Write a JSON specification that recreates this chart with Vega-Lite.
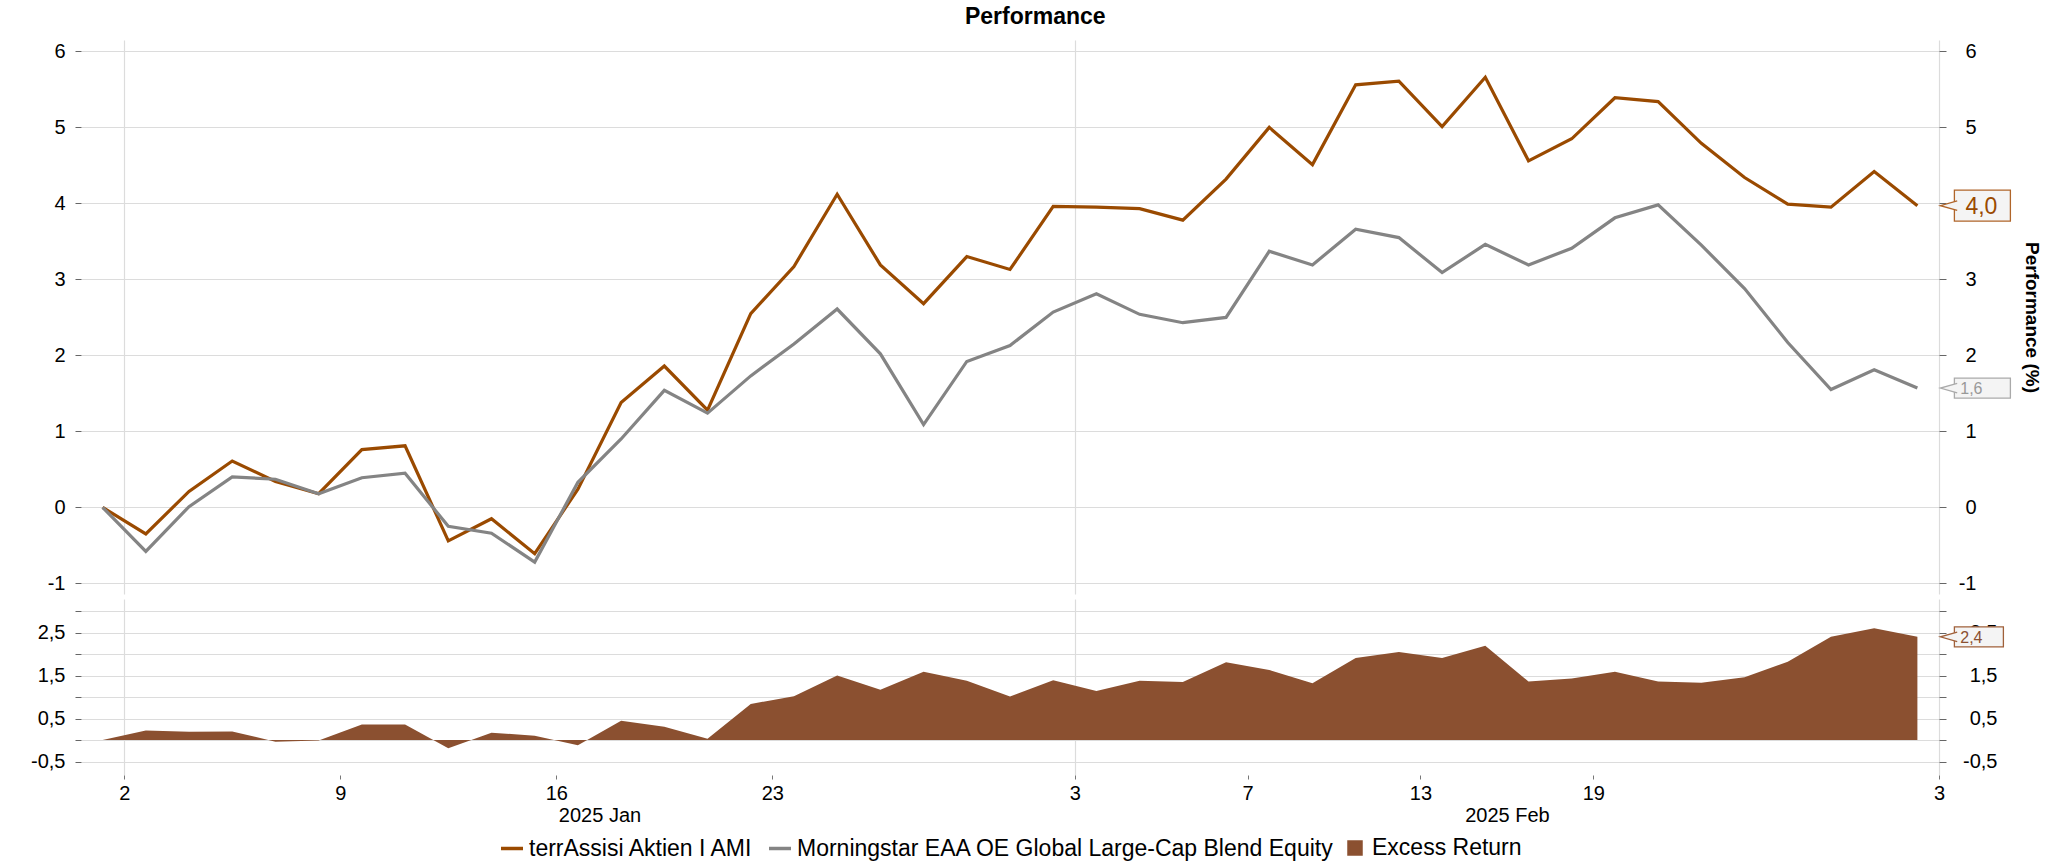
{
  "$schema": "https://vega.github.io/schema/vega-lite/v6.json",
  "padding": {"left": 30, "top": 6, "right": 5, "bottom": 0},
  "title": {"text": "Performance", "fontSize": 23, "fontWeight": "bold", "font": "Liberation Sans", "color": "#000000", "anchor": "middle", "offset": 11},
  "spacing": 5,
  "config": {
    "font": "Liberation Sans",
    "view": {"stroke": null},
    "axis": {"labelFont": "Liberation Sans", "labelFontSize": 20, "labelColor": "#000000", "domain": false, "tickColor": "#666666"},
    "legend": {"layout": {"bottom": {"anchor": "middle"}}}
  },
  "datasets": {
    "perf": [
      {"i": 0, "date": "2024-12-31", "series": "terrAssisi Aktien I AMI", "value": 0.00},
      {"i": 1, "date": "2025-01-02", "series": "terrAssisi Aktien I AMI", "value": -0.35},
      {"i": 2, "date": "2025-01-03", "series": "terrAssisi Aktien I AMI", "value": 0.21},
      {"i": 3, "date": "2025-01-06", "series": "terrAssisi Aktien I AMI", "value": 0.61},
      {"i": 4, "date": "2025-01-07", "series": "terrAssisi Aktien I AMI", "value": 0.34},
      {"i": 5, "date": "2025-01-08", "series": "terrAssisi Aktien I AMI", "value": 0.18},
      {"i": 6, "date": "2025-01-09", "series": "terrAssisi Aktien I AMI", "value": 0.76},
      {"i": 7, "date": "2025-01-10", "series": "terrAssisi Aktien I AMI", "value": 0.81},
      {"i": 8, "date": "2025-01-13", "series": "terrAssisi Aktien I AMI", "value": -0.44},
      {"i": 9, "date": "2025-01-14", "series": "terrAssisi Aktien I AMI", "value": -0.15},
      {"i": 10, "date": "2025-01-15", "series": "terrAssisi Aktien I AMI", "value": -0.61},
      {"i": 11, "date": "2025-01-16", "series": "terrAssisi Aktien I AMI", "value": 0.24},
      {"i": 12, "date": "2025-01-17", "series": "terrAssisi Aktien I AMI", "value": 1.38},
      {"i": 13, "date": "2025-01-20", "series": "terrAssisi Aktien I AMI", "value": 1.86},
      {"i": 14, "date": "2025-01-21", "series": "terrAssisi Aktien I AMI", "value": 1.28},
      {"i": 15, "date": "2025-01-22", "series": "terrAssisi Aktien I AMI", "value": 2.55},
      {"i": 16, "date": "2025-01-23", "series": "terrAssisi Aktien I AMI", "value": 3.17},
      {"i": 17, "date": "2025-01-24", "series": "terrAssisi Aktien I AMI", "value": 4.12},
      {"i": 18, "date": "2025-01-27", "series": "terrAssisi Aktien I AMI", "value": 3.19},
      {"i": 19, "date": "2025-01-28", "series": "terrAssisi Aktien I AMI", "value": 2.68},
      {"i": 20, "date": "2025-01-29", "series": "terrAssisi Aktien I AMI", "value": 3.30},
      {"i": 21, "date": "2025-01-30", "series": "terrAssisi Aktien I AMI", "value": 3.13},
      {"i": 22, "date": "2025-01-31", "series": "terrAssisi Aktien I AMI", "value": 3.96},
      {"i": 23, "date": "2025-02-03", "series": "terrAssisi Aktien I AMI", "value": 3.95},
      {"i": 24, "date": "2025-02-04", "series": "terrAssisi Aktien I AMI", "value": 3.93},
      {"i": 25, "date": "2025-02-05", "series": "terrAssisi Aktien I AMI", "value": 3.78},
      {"i": 26, "date": "2025-02-06", "series": "terrAssisi Aktien I AMI", "value": 4.32},
      {"i": 27, "date": "2025-02-07", "series": "terrAssisi Aktien I AMI", "value": 5.00},
      {"i": 28, "date": "2025-02-10", "series": "terrAssisi Aktien I AMI", "value": 4.51},
      {"i": 29, "date": "2025-02-11", "series": "terrAssisi Aktien I AMI", "value": 5.56},
      {"i": 30, "date": "2025-02-12", "series": "terrAssisi Aktien I AMI", "value": 5.61},
      {"i": 31, "date": "2025-02-13", "series": "terrAssisi Aktien I AMI", "value": 5.01},
      {"i": 32, "date": "2025-02-14", "series": "terrAssisi Aktien I AMI", "value": 5.66},
      {"i": 33, "date": "2025-02-17", "series": "terrAssisi Aktien I AMI", "value": 4.56},
      {"i": 34, "date": "2025-02-18", "series": "terrAssisi Aktien I AMI", "value": 4.85},
      {"i": 35, "date": "2025-02-19", "series": "terrAssisi Aktien I AMI", "value": 5.39},
      {"i": 36, "date": "2025-02-20", "series": "terrAssisi Aktien I AMI", "value": 5.34},
      {"i": 37, "date": "2025-02-21", "series": "terrAssisi Aktien I AMI", "value": 4.79},
      {"i": 38, "date": "2025-02-24", "series": "terrAssisi Aktien I AMI", "value": 4.34},
      {"i": 39, "date": "2025-02-25", "series": "terrAssisi Aktien I AMI", "value": 3.99},
      {"i": 40, "date": "2025-02-26", "series": "terrAssisi Aktien I AMI", "value": 3.95},
      {"i": 41, "date": "2025-02-27", "series": "terrAssisi Aktien I AMI", "value": 4.42},
      {"i": 42, "date": "2025-02-28", "series": "terrAssisi Aktien I AMI", "value": 3.97},
      {"i": 0, "date": "2024-12-31", "series": "Morningstar EAA OE Global Large-Cap Blend Equity", "value": 0.00},
      {"i": 1, "date": "2025-01-02", "series": "Morningstar EAA OE Global Large-Cap Blend Equity", "value": -0.58},
      {"i": 2, "date": "2025-01-03", "series": "Morningstar EAA OE Global Large-Cap Blend Equity", "value": 0.01},
      {"i": 3, "date": "2025-01-06", "series": "Morningstar EAA OE Global Large-Cap Blend Equity", "value": 0.40},
      {"i": 4, "date": "2025-01-07", "series": "Morningstar EAA OE Global Large-Cap Blend Equity", "value": 0.37},
      {"i": 5, "date": "2025-01-08", "series": "Morningstar EAA OE Global Large-Cap Blend Equity", "value": 0.18},
      {"i": 6, "date": "2025-01-09", "series": "Morningstar EAA OE Global Large-Cap Blend Equity", "value": 0.39},
      {"i": 7, "date": "2025-01-10", "series": "Morningstar EAA OE Global Large-Cap Blend Equity", "value": 0.45},
      {"i": 8, "date": "2025-01-13", "series": "Morningstar EAA OE Global Large-Cap Blend Equity", "value": -0.25},
      {"i": 9, "date": "2025-01-14", "series": "Morningstar EAA OE Global Large-Cap Blend Equity", "value": -0.34},
      {"i": 10, "date": "2025-01-15", "series": "Morningstar EAA OE Global Large-Cap Blend Equity", "value": -0.72},
      {"i": 11, "date": "2025-01-16", "series": "Morningstar EAA OE Global Large-Cap Blend Equity", "value": 0.33},
      {"i": 12, "date": "2025-01-17", "series": "Morningstar EAA OE Global Large-Cap Blend Equity", "value": 0.90},
      {"i": 13, "date": "2025-01-20", "series": "Morningstar EAA OE Global Large-Cap Blend Equity", "value": 1.54},
      {"i": 14, "date": "2025-01-21", "series": "Morningstar EAA OE Global Large-Cap Blend Equity", "value": 1.24},
      {"i": 15, "date": "2025-01-22", "series": "Morningstar EAA OE Global Large-Cap Blend Equity", "value": 1.73},
      {"i": 16, "date": "2025-01-23", "series": "Morningstar EAA OE Global Large-Cap Blend Equity", "value": 2.15},
      {"i": 17, "date": "2025-01-24", "series": "Morningstar EAA OE Global Large-Cap Blend Equity", "value": 2.61},
      {"i": 18, "date": "2025-01-27", "series": "Morningstar EAA OE Global Large-Cap Blend Equity", "value": 2.02},
      {"i": 19, "date": "2025-01-28", "series": "Morningstar EAA OE Global Large-Cap Blend Equity", "value": 1.09},
      {"i": 20, "date": "2025-01-29", "series": "Morningstar EAA OE Global Large-Cap Blend Equity", "value": 1.92},
      {"i": 21, "date": "2025-01-30", "series": "Morningstar EAA OE Global Large-Cap Blend Equity", "value": 2.13},
      {"i": 22, "date": "2025-01-31", "series": "Morningstar EAA OE Global Large-Cap Blend Equity", "value": 2.57},
      {"i": 23, "date": "2025-02-03", "series": "Morningstar EAA OE Global Large-Cap Blend Equity", "value": 2.81},
      {"i": 24, "date": "2025-02-04", "series": "Morningstar EAA OE Global Large-Cap Blend Equity", "value": 2.54},
      {"i": 25, "date": "2025-02-05", "series": "Morningstar EAA OE Global Large-Cap Blend Equity", "value": 2.43},
      {"i": 26, "date": "2025-02-06", "series": "Morningstar EAA OE Global Large-Cap Blend Equity", "value": 2.50},
      {"i": 27, "date": "2025-02-07", "series": "Morningstar EAA OE Global Large-Cap Blend Equity", "value": 3.37},
      {"i": 28, "date": "2025-02-10", "series": "Morningstar EAA OE Global Large-Cap Blend Equity", "value": 3.19},
      {"i": 29, "date": "2025-02-11", "series": "Morningstar EAA OE Global Large-Cap Blend Equity", "value": 3.66},
      {"i": 30, "date": "2025-02-12", "series": "Morningstar EAA OE Global Large-Cap Blend Equity", "value": 3.55},
      {"i": 31, "date": "2025-02-13", "series": "Morningstar EAA OE Global Large-Cap Blend Equity", "value": 3.09},
      {"i": 32, "date": "2025-02-14", "series": "Morningstar EAA OE Global Large-Cap Blend Equity", "value": 3.46},
      {"i": 33, "date": "2025-02-17", "series": "Morningstar EAA OE Global Large-Cap Blend Equity", "value": 3.19},
      {"i": 34, "date": "2025-02-18", "series": "Morningstar EAA OE Global Large-Cap Blend Equity", "value": 3.41},
      {"i": 35, "date": "2025-02-19", "series": "Morningstar EAA OE Global Large-Cap Blend Equity", "value": 3.81},
      {"i": 36, "date": "2025-02-20", "series": "Morningstar EAA OE Global Large-Cap Blend Equity", "value": 3.98},
      {"i": 37, "date": "2025-02-21", "series": "Morningstar EAA OE Global Large-Cap Blend Equity", "value": 3.45},
      {"i": 38, "date": "2025-02-24", "series": "Morningstar EAA OE Global Large-Cap Blend Equity", "value": 2.88},
      {"i": 39, "date": "2025-02-25", "series": "Morningstar EAA OE Global Large-Cap Blend Equity", "value": 2.17},
      {"i": 40, "date": "2025-02-26", "series": "Morningstar EAA OE Global Large-Cap Blend Equity", "value": 1.55},
      {"i": 41, "date": "2025-02-27", "series": "Morningstar EAA OE Global Large-Cap Blend Equity", "value": 1.81},
      {"i": 42, "date": "2025-02-28", "series": "Morningstar EAA OE Global Large-Cap Blend Equity", "value": 1.57}
    ],
    "excess": [
      {"i": 0, "date": "2024-12-31", "series": "Excess Return", "value": 0.00},
      {"i": 1, "date": "2025-01-02", "series": "Excess Return", "value": 0.22},
      {"i": 2, "date": "2025-01-03", "series": "Excess Return", "value": 0.19},
      {"i": 3, "date": "2025-01-06", "series": "Excess Return", "value": 0.20},
      {"i": 4, "date": "2025-01-07", "series": "Excess Return", "value": -0.04},
      {"i": 5, "date": "2025-01-08", "series": "Excess Return", "value": -0.01},
      {"i": 6, "date": "2025-01-09", "series": "Excess Return", "value": 0.36},
      {"i": 7, "date": "2025-01-10", "series": "Excess Return", "value": 0.36},
      {"i": 8, "date": "2025-01-13", "series": "Excess Return", "value": -0.19},
      {"i": 9, "date": "2025-01-14", "series": "Excess Return", "value": 0.17},
      {"i": 10, "date": "2025-01-15", "series": "Excess Return", "value": 0.10},
      {"i": 11, "date": "2025-01-16", "series": "Excess Return", "value": -0.12},
      {"i": 12, "date": "2025-01-17", "series": "Excess Return", "value": 0.45},
      {"i": 13, "date": "2025-01-20", "series": "Excess Return", "value": 0.31},
      {"i": 14, "date": "2025-01-21", "series": "Excess Return", "value": 0.03},
      {"i": 15, "date": "2025-01-22", "series": "Excess Return", "value": 0.84},
      {"i": 16, "date": "2025-01-23", "series": "Excess Return", "value": 1.02},
      {"i": 17, "date": "2025-01-24", "series": "Excess Return", "value": 1.50},
      {"i": 18, "date": "2025-01-27", "series": "Excess Return", "value": 1.17},
      {"i": 19, "date": "2025-01-28", "series": "Excess Return", "value": 1.59},
      {"i": 20, "date": "2025-01-29", "series": "Excess Return", "value": 1.38},
      {"i": 21, "date": "2025-01-30", "series": "Excess Return", "value": 1.01},
      {"i": 22, "date": "2025-01-31", "series": "Excess Return", "value": 1.39},
      {"i": 23, "date": "2025-02-03", "series": "Excess Return", "value": 1.14},
      {"i": 24, "date": "2025-02-04", "series": "Excess Return", "value": 1.38},
      {"i": 25, "date": "2025-02-05", "series": "Excess Return", "value": 1.35},
      {"i": 26, "date": "2025-02-06", "series": "Excess Return", "value": 1.81},
      {"i": 27, "date": "2025-02-07", "series": "Excess Return", "value": 1.63},
      {"i": 28, "date": "2025-02-10", "series": "Excess Return", "value": 1.32},
      {"i": 29, "date": "2025-02-11", "series": "Excess Return", "value": 1.91},
      {"i": 30, "date": "2025-02-12", "series": "Excess Return", "value": 2.05},
      {"i": 31, "date": "2025-02-13", "series": "Excess Return", "value": 1.91},
      {"i": 32, "date": "2025-02-14", "series": "Excess Return", "value": 2.19},
      {"i": 33, "date": "2025-02-17", "series": "Excess Return", "value": 1.36},
      {"i": 34, "date": "2025-02-18", "series": "Excess Return", "value": 1.43},
      {"i": 35, "date": "2025-02-19", "series": "Excess Return", "value": 1.59},
      {"i": 36, "date": "2025-02-20", "series": "Excess Return", "value": 1.36},
      {"i": 37, "date": "2025-02-21", "series": "Excess Return", "value": 1.33},
      {"i": 38, "date": "2025-02-24", "series": "Excess Return", "value": 1.46},
      {"i": 39, "date": "2025-02-25", "series": "Excess Return", "value": 1.82},
      {"i": 40, "date": "2025-02-26", "series": "Excess Return", "value": 2.40},
      {"i": 41, "date": "2025-02-27", "series": "Excess Return", "value": 2.60},
      {"i": 42, "date": "2025-02-28", "series": "Excess Return", "value": 2.40}
    ],
    "last": [
      {"i": 42, "series": "terrAssisi Aktien I AMI", "value": 3.97, "label": "4,0"},
      {"i": 42, "series": "Morningstar EAA OE Global Large-Cap Blend Equity", "value": 1.57, "label": "1,6"},
      {"i": 42, "series": "Excess Return", "value": 2.40, "label": "2,4"}
    ]
  },
  "vconcat": [
    {
      "width": 1858,
      "height": 554,
      "layer": [
        {
          "data": {"name": "perf"},
          "mark": {"type": "line", "strokeWidth": 3.2, "clip": false},
          "encoding": {
            "x": {"field": "i", "type": "quantitative", "scale": {"domain": [-0.5, 42.5], "nice": false, "zero": false},
                  "axis": {"values": [0.5, 22.5, 42.5], "labels": false, "ticks": false, "domain": false, "grid": true, "gridColor": "#dcdcdc", "gridWidth": 1.2, "title": null}},
            "y": {"field": "value", "type": "quantitative", "scale": {"domain": [-1.14, 6.15], "nice": false, "zero": false},
                  "axis": {"orient": "left", "values": [-1, 0, 1, 2, 3, 4, 5, 6], "labelExpr": "datum.value < 0 ? '-' + abs(datum.value) : '' + datum.value", "title": null, "grid": true, "gridColor": "#dcdcdc", "gridWidth": 1.2, "tickSize": 6, "labelPadding": 10}},
            "color": {"field": "series", "type": "nominal",
                      "scale": {"domain": ["terrAssisi Aktien I AMI", "Morningstar EAA OE Global Large-Cap Blend Equity", "Excess Return"], "range": ["#9A4A00", "#848484", "#8B5030"]},
                      "legend": {"orient": "bottom", "direction": "horizontal", "title": null, "labelFontSize": 23, "labelColor": "#000000", "labelLimit": 1000, "labelOffset": 4, "columnPadding": 8, "offset": 10, "symbolType": "stroke", "symbolSize": 484, "symbolStrokeWidth": 3.5,
                                 "encode": {"symbols": {"update": {
                                   "shape": {"signal": "datum.value === 'Excess Return' ? 'square' : 'stroke'"},
                                   "size": {"signal": "datum.value === 'Excess Return' ? 144 : 484"},
                                   "fill": {"signal": "datum.value === 'Excess Return' ? '#8B5030' : 'transparent'"},
                                   "stroke": {"signal": "datum.value === 'Excess Return' ? 'transparent' : (datum.value === 'terrAssisi Aktien I AMI' ? '#9A4A00' : '#848484')"},
                                   "strokeWidth": {"value": 3.5},
                                   "opacity": {"value": 1}}}}}}
          }
        },
        {
          "data": {"name": "last"},
          "transform": [{"filter": "datum.series === 'terrAssisi Aktien I AMI'"}],
          "mark": {"type": "rect", "fill": "#f4f4f4", "stroke": "#B0652A", "strokeWidth": 1.3, "xOffset": 37, "x2Offset": 93, "yOffset": -15.5, "y2Offset": 15.5, "clip": false},
          "encoding": {
            "x": {"field": "i", "type": "quantitative"},
            "x2": {"field": "i"},
            "y": {"field": "value", "type": "quantitative",
                  "axis": {"orient": "right", "values": [-1, 0, 1, 2, 3, 4, 5, 6], "labelExpr": "datum.value < 0 ? '-' + abs(datum.value) : '' + datum.value", "grid": false, "tickSize": 7, "labelPadding": 30, "labelAlign": "right",
                           "title": "Performance (%)", "titleFontSize": 19, "titleFontWeight": "bold", "titleColor": "#000000", "titleAngle": 90, "titlePadding": 45}},
            "y2": {"field": "value"}
          }
        },
        {
          "data": {"name": "last"},
          "transform": [{"filter": "datum.series === 'terrAssisi Aktien I AMI'"}],
          "mark": {"type": "point", "shape": "M 1.1 -0.6 L -1 0 L 1.1 0.6", "size": 256, "filled": true, "fill": "#f4f4f4", "stroke": "#B0652A", "strokeWidth": 1.3, "opacity": 1, "xOffset": 31, "clip": false},
          "encoding": {
            "x": {"field": "i", "type": "quantitative"},
            "y": {"field": "value", "type": "quantitative", "axis": null}
          }
        },
        {
          "data": {"name": "last"},
          "transform": [{"filter": "datum.series === 'terrAssisi Aktien I AMI'"}],
          "mark": {"type": "text", "fontSize": 23, "color": "#9A4A00", "align": "center", "baseline": "middle", "dx": 64, "dy": 1, "clip": false},
          "encoding": {
            "x": {"field": "i", "type": "quantitative"},
            "y": {"field": "value", "type": "quantitative", "axis": null},
            "text": {"field": "label"}
          }
        },
        {
          "data": {"name": "last"},
          "transform": [{"filter": "datum.series === 'Morningstar EAA OE Global Large-Cap Blend Equity'"}],
          "mark": {"type": "rect", "fill": "#f4f4f4", "stroke": "#AAAAAA", "strokeWidth": 1.3, "xOffset": 37, "x2Offset": 93, "yOffset": -10, "y2Offset": 10, "clip": false},
          "encoding": {
            "x": {"field": "i", "type": "quantitative"},
            "x2": {"field": "i"},
            "y": {"field": "value", "type": "quantitative", "axis": null},
            "y2": {"field": "value"}
          }
        },
        {
          "data": {"name": "last"},
          "transform": [{"filter": "datum.series === 'Morningstar EAA OE Global Large-Cap Blend Equity'"}],
          "mark": {"type": "point", "shape": "M 1.1 -0.6 L -1 0 L 1.1 0.6", "size": 256, "filled": true, "fill": "#f4f4f4", "stroke": "#AAAAAA", "strokeWidth": 1.3, "opacity": 1, "xOffset": 31, "clip": false},
          "encoding": {
            "x": {"field": "i", "type": "quantitative"},
            "y": {"field": "value", "type": "quantitative", "axis": null}
          }
        },
        {
          "data": {"name": "last"},
          "transform": [{"filter": "datum.series === 'Morningstar EAA OE Global Large-Cap Blend Equity'"}],
          "mark": {"type": "text", "fontSize": 16, "color": "#999999", "align": "center", "baseline": "middle", "dx": 54, "dy": 1, "clip": false},
          "encoding": {
            "x": {"field": "i", "type": "quantitative"},
            "y": {"field": "value", "type": "quantitative", "axis": null},
            "text": {"field": "label"}
          }
        }
      ]
    },
    {
      "width": 1858,
      "height": 176,
      "layer": [
        {
          "data": {"name": "excess"},
          "mark": {"type": "area", "opacity": 1, "clip": false},
          "encoding": {
            "x": {"field": "i", "type": "quantitative", "scale": {"domain": [-0.5, 42.5], "nice": false, "zero": false},
                  "axis": {"values": [0.5, 5.5, 10.5, 11.5, 15.5, 22.5, 26.5, 30.5, 32.5, 34.5, 42.5],
                           "labelExpr": "datum.value == 0.5 ? '2' : datum.value == 5.5 ? '9' : datum.value == 10.5 ? '16' : datum.value == 11.5 ? ['', '2025 Jan'] : datum.value == 15.5 ? '23' : datum.value == 22.5 ? '3' : datum.value == 26.5 ? '7' : datum.value == 30.5 ? '13' : datum.value == 32.5 ? ['', '2025 Feb'] : datum.value == 34.5 ? '19' : '3'",
                           "labelOverlap": false, "labelFlush": false, "labelBound": false, "labelLineHeight": 22, "labelPadding": 4, "tickSize": 4,
                           "tickColor": {"condition": {"test": "datum.value == 11.5 || datum.value == 32.5", "value": "transparent"}, "value": "#777777"},
                           "grid": true, "gridWidth": 1.2,
                           "gridColor": {"condition": {"test": "datum.value == 0.5 || datum.value == 22.5 || datum.value == 42.5", "value": "#dcdcdc"}, "value": "transparent"},
                           "domain": false, "title": null}},
            "y": {"field": "value", "type": "quantitative", "scale": {"domain": [-0.814, 3.28], "nice": false, "zero": false},
                  "axis": {"orient": "left", "values": [-0.5, 0, 0.5, 1, 1.5, 2, 2.5, 3],
                           "labelExpr": "datum.value == -0.5 ? '-0,5' : datum.value == 0.5 ? '0,5' : datum.value == 1.5 ? '1,5' : datum.value == 2.5 ? '2,5' : ''",
                           "title": null, "grid": true, "gridColor": "#dcdcdc", "gridWidth": 1.2, "tickSize": 6, "labelPadding": 10}},
            "color": {"field": "series", "type": "nominal",
                      "scale": {"domain": ["terrAssisi Aktien I AMI", "Morningstar EAA OE Global Large-Cap Blend Equity", "Excess Return"], "range": ["#9A4A00", "#848484", "#8B5030"]},
                      "legend": {"orient": "bottom", "direction": "horizontal", "title": null, "labelFontSize": 23, "labelColor": "#000000", "labelLimit": 1000, "labelOffset": 4, "columnPadding": 8, "offset": 10, "symbolType": "stroke", "symbolSize": 484, "symbolStrokeWidth": 3.5,
                                 "encode": {"symbols": {"update": {
                                   "shape": {"signal": "datum.value === 'Excess Return' ? 'square' : 'stroke'"},
                                   "size": {"signal": "datum.value === 'Excess Return' ? 144 : 484"},
                                   "fill": {"signal": "datum.value === 'Excess Return' ? '#8B5030' : 'transparent'"},
                                   "stroke": {"signal": "datum.value === 'Excess Return' ? 'transparent' : (datum.value === 'terrAssisi Aktien I AMI' ? '#9A4A00' : '#848484')"},
                                   "strokeWidth": {"value": 3.5},
                                   "opacity": {"value": 1}}}}}}
          }
        },
        {
          "data": {"name": "last"},
          "transform": [{"filter": "datum.series === 'Excess Return'"}],
          "mark": {"type": "rect", "fill": "#f4f4f4", "stroke": "#A0603A", "strokeWidth": 1.3, "xOffset": 37, "x2Offset": 86, "yOffset": -10, "y2Offset": 10, "clip": false},
          "encoding": {
            "x": {"field": "i", "type": "quantitative"},
            "x2": {"field": "i"},
            "y": {"field": "value", "type": "quantitative",
                  "axis": {"orient": "right", "values": [-0.5, 0, 0.5, 1, 1.5, 2, 2.5, 3],
                           "labelExpr": "datum.value == -0.5 ? '-0,5' : datum.value == 0.5 ? '0,5' : datum.value == 1.5 ? '1,5' : datum.value == 2.5 ? '2,5' : ''",
                           "title": null, "grid": false, "tickSize": 7, "labelPadding": 51, "labelAlign": "right"}},
            "y2": {"field": "value"}
          }
        },
        {
          "data": {"name": "last"},
          "transform": [{"filter": "datum.series === 'Excess Return'"}],
          "mark": {"type": "point", "shape": "M 1.1 -0.6 L -1 0 L 1.1 0.6", "size": 256, "filled": true, "fill": "#f4f4f4", "stroke": "#A0603A", "strokeWidth": 1.3, "opacity": 1, "xOffset": 31, "clip": false},
          "encoding": {
            "x": {"field": "i", "type": "quantitative"},
            "y": {"field": "value", "type": "quantitative", "axis": null}
          }
        },
        {
          "data": {"name": "last"},
          "transform": [{"filter": "datum.series === 'Excess Return'"}],
          "mark": {"type": "text", "fontSize": 16, "color": "#8B5030", "align": "center", "baseline": "middle", "dx": 54, "dy": 1, "clip": false},
          "encoding": {
            "x": {"field": "i", "type": "quantitative"},
            "y": {"field": "value", "type": "quantitative", "axis": null},
            "text": {"field": "label"}
          }
        }
      ]
    }
  ]
}
